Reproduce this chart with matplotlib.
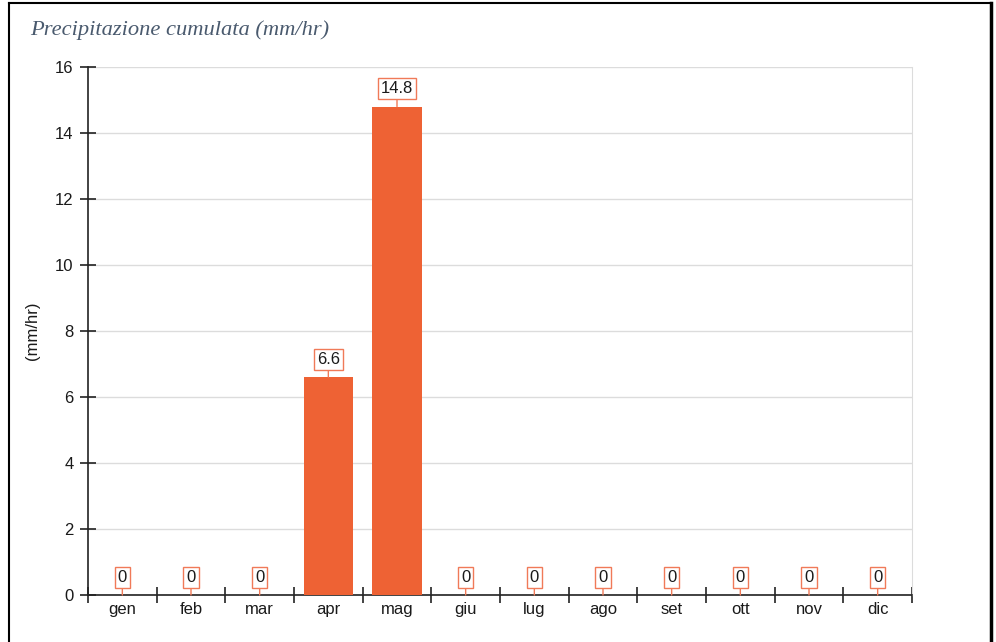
import matplotlib
matplotlib.use('Agg')
import matplotlib.pyplot as plt
from matplotlib.lines import Line2D
import numpy as np

mesi = ['gen', 'feb', 'mar', 'apr', 'mag', 'giu', 'lug', 'ago', 'set', 'ott', 'nov', 'dic']
pioggia = [0, 0, 0, 6.6, 14.8, 0, 0, 0, 0, 0, 0, 0]
y_ticks = [0, 2, 4, 6, 8, 10, 12, 14, 16]

arancio = '#ee6234'
testo = '#1a1a1a'
fs = 12

fig = plt.figure(figsize=(9.96, 6.42), dpi=100)
ax = fig.add_axes([88/996, 1-595/642, (912-88)/996, (595-67)/642])

x = np.arange(len(mesi))
ax.bar(x, pioggia, width=0.72, color=arancio, zorder=3)

for xi, v in zip(x, pioggia):
    lab = '%g' % v
    ax.annotate(lab, xy=(xi, v), xytext=(0, 7.5), textcoords='offset points',
                ha='center', va='bottom', fontsize=fs, color=testo,
                family='Liberation Sans', zorder=5,
                bbox=dict(boxstyle='square,pad=0.18', fc='white', ec='#f07a58', lw=1),
                arrowprops=dict(arrowstyle='-', color='#f07a58', lw=1,
                                shrinkA=0, shrinkB=0))

ax.set_xlim(-0.5, len(mesi) - 0.5)
ax.set_ylim(0, 16)
ax.set_yticks(y_ticks)
ax.set_yticklabels([str(t) for t in y_ticks], family='Liberation Sans', fontsize=fs, color=testo)
ax.set_xticks(np.arange(len(mesi) + 1) - 0.5)
ax.set_xticklabels([])
ax.set_xticks(x, minor=True)
ax.set_xticklabels(mesi, minor=True, family='Liberation Sans', fontsize=fs, color=testo)
ax.tick_params(axis='x', which='minor', length=0, pad=5)
ax.tick_params(axis='x', which='major', direction='inout', length=11, width=1.2, color='#222222')
ax.tick_params(axis='y', direction='inout', length=11, width=1.2, color='#222222', pad=5)

ax.grid(axis='y', color='#dcdcdc', lw=1, zorder=0)
ax.spines['top'].set_visible(False)
ax.spines['right'].set_color('#dcdcdc')
ax.spines['left'].set_color('#222222')
ax.spines['bottom'].set_color('#222222')
ax.spines['left'].set_linewidth(1.2)
ax.spines['bottom'].set_linewidth(1.2)

ax.set_ylabel('(mm/hr)', family='Liberation Sans', fontsize=fs, color=testo, labelpad=11)

fig.text(30/996, 1-30/642, 'Precipitazione cumulata (mm/hr)', family='Liberation Serif',
         style='italic', fontsize=16.2, color='#4a5a6e', va='center', ha='left')

# cornice
fig.add_artist(Line2D([9/996, 9/996], [0, 1-3/642], transform=fig.transFigure, color='black', lw=1.5))
fig.add_artist(Line2D([9/996, 991/996], [1-3/642, 1-3/642], transform=fig.transFigure, color='black', lw=1.5))
fig.add_artist(Line2D([991/996, 991/996], [0, 1-3/642], transform=fig.transFigure, color='black', lw=2.5))

fig.savefig('out.png', dpi=100)
